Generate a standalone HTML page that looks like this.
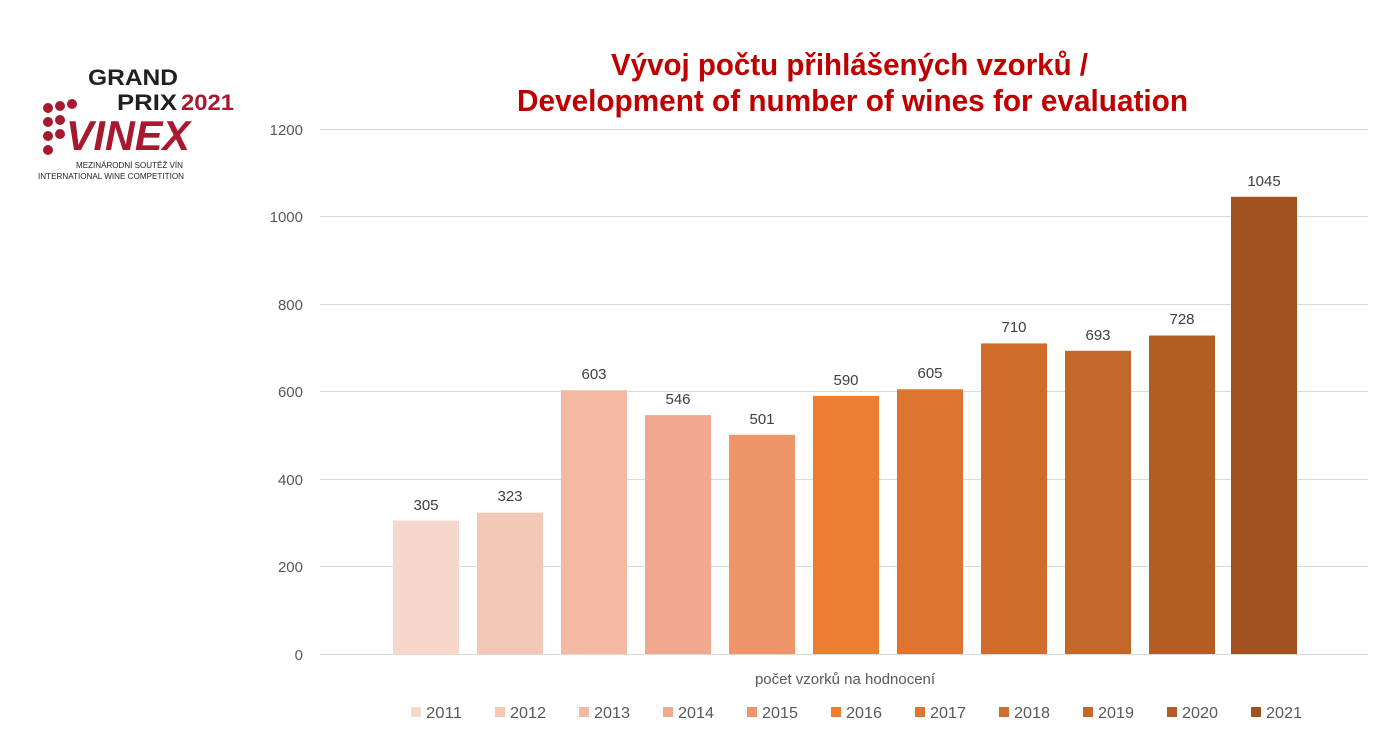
<!DOCTYPE html>
<html><head><meta charset="utf-8"><style>
html,body{margin:0;padding:0;background:#fff;}
svg{display:block;}
</style></head><body>
<svg width="1381" height="729" viewBox="0 0 1381 729" xmlns="http://www.w3.org/2000/svg">
<rect width="1381" height="729" fill="#fff"/>
<g font-family="Liberation Sans, DejaVu Sans, sans-serif" font-weight="bold">
<text x="88" y="85" font-size="22" fill="#231f20" textLength="90" lengthAdjust="spacingAndGlyphs">GRAND</text>
<text x="117" y="110" font-size="22" fill="#231f20" textLength="60" lengthAdjust="spacingAndGlyphs">PRIX</text>
<text x="181" y="110" font-size="22" fill="#a6192e" textLength="53" lengthAdjust="spacingAndGlyphs">2021</text>
<text x="66" y="150" font-size="42" font-style="italic" fill="#a6192e" textLength="124" lengthAdjust="spacingAndGlyphs">VINEX</text>
</g>
<g fill="#a6192e">
<circle cx="48" cy="108" r="5"/><circle cx="60" cy="106" r="5"/><circle cx="72" cy="104" r="5"/>
<circle cx="48" cy="122" r="5"/><circle cx="60" cy="120" r="5"/>
<circle cx="48" cy="136" r="5"/><circle cx="60" cy="134" r="5"/>
<circle cx="48" cy="150" r="5"/>
</g>
<g font-family="Liberation Sans, DejaVu Sans, sans-serif" font-size="8" fill="#231f20">
<text x="76" y="168" textLength="107" lengthAdjust="spacingAndGlyphs">MEZINÁRODNÍ SOUTĚŽ VÍN</text>
<text x="38" y="179" textLength="146" lengthAdjust="spacingAndGlyphs">INTERNATIONAL WINE COMPETITION</text>
</g>
<g font-family="Liberation Sans Narrow, Liberation Sans, sans-serif" font-weight="bold" font-size="31" fill="#c00000">
<text x="611" y="75" textLength="477" lengthAdjust="spacingAndGlyphs">Vývoj počtu přihlášených vzorků /</text>
<text x="517" y="111" textLength="671" lengthAdjust="spacingAndGlyphs">Development of number of wines for evaluation</text>
</g>
<g stroke="#d9d9d9" stroke-width="1">
<line x1="320" x2="1368" y1="129.5" y2="129.5"/>
<line x1="320" x2="1368" y1="216.5" y2="216.5"/>
<line x1="320" x2="1368" y1="304.5" y2="304.5"/>
<line x1="320" x2="1368" y1="391.5" y2="391.5"/>
<line x1="320" x2="1368" y1="479.5" y2="479.5"/>
<line x1="320" x2="1368" y1="566.5" y2="566.5"/>
<line x1="320" x2="1368" y1="654.5" y2="654.5"/>
</g>
<g font-family="Liberation Sans, DejaVu Sans, sans-serif" font-size="15" fill="#595959" text-anchor="end">
<text x="303" y="135">1200</text><text x="303" y="222">1000</text><text x="303" y="310">800</text>
<text x="303" y="397">600</text><text x="303" y="485">400</text><text x="303" y="572">200</text><text x="303" y="660">0</text>
</g>
<g>
<rect x="393" y="520.6" width="66" height="133.4" fill="#f7d6cb"/>
<rect x="477" y="512.7" width="66" height="141.3" fill="#f5c7b7"/>
<rect x="561" y="390.2" width="66" height="263.8" fill="#f3b9a4"/>
<rect x="645" y="415.1" width="66" height="238.9" fill="#f0a98e"/>
<rect x="729" y="434.8" width="66" height="219.2" fill="#ee966a"/>
<rect x="813" y="395.9" width="66" height="258.1" fill="#ec7d33"/>
<rect x="897" y="389.3" width="66" height="264.7" fill="#dd7430"/>
<rect x="981" y="343.4" width="66" height="310.6" fill="#d16d2c"/>
<rect x="1065" y="350.8" width="66" height="303.2" fill="#c4672a"/>
<rect x="1149" y="335.5" width="66" height="318.5" fill="#b45c26"/>
<rect x="1231" y="196.8" width="66" height="457.2" fill="#a0521f"/>
</g>
<g font-family="Liberation Sans, DejaVu Sans, sans-serif" font-size="15" fill="#404040" text-anchor="middle">
<text x="426" y="510">305</text><text x="510" y="501">323</text><text x="594" y="379">603</text>
<text x="678" y="404">546</text><text x="762" y="424">501</text><text x="846" y="385">590</text>
<text x="930" y="378">605</text><text x="1014" y="332">710</text><text x="1098" y="340">693</text>
<text x="1182" y="324">728</text><text x="1264" y="186">1045</text>
</g>
<text x="845" y="684" font-family="Liberation Sans, DejaVu Sans, sans-serif" font-size="15" fill="#595959" text-anchor="middle">počet vzorků na hodnocení</text>
<g font-family="Liberation Sans Narrow, Liberation Sans, sans-serif" font-size="16" fill="#595959">
<rect x="411" y="707" width="10" height="10" fill="#f7d6cb"/><text x="426" y="718" textLength="36" lengthAdjust="spacingAndGlyphs">2011</text>
<rect x="495" y="707" width="10" height="10" fill="#f5c7b7"/><text x="510" y="718" textLength="36" lengthAdjust="spacingAndGlyphs">2012</text>
<rect x="579" y="707" width="10" height="10" fill="#f3b9a4"/><text x="594" y="718" textLength="36" lengthAdjust="spacingAndGlyphs">2013</text>
<rect x="663" y="707" width="10" height="10" fill="#f0a98e"/><text x="678" y="718" textLength="36" lengthAdjust="spacingAndGlyphs">2014</text>
<rect x="747" y="707" width="10" height="10" fill="#ee966a"/><text x="762" y="718" textLength="36" lengthAdjust="spacingAndGlyphs">2015</text>
<rect x="831" y="707" width="10" height="10" fill="#ec7d33"/><text x="846" y="718" textLength="36" lengthAdjust="spacingAndGlyphs">2016</text>
<rect x="915" y="707" width="10" height="10" fill="#dd7430"/><text x="930" y="718" textLength="36" lengthAdjust="spacingAndGlyphs">2017</text>
<rect x="999" y="707" width="10" height="10" fill="#d16d2c"/><text x="1014" y="718" textLength="36" lengthAdjust="spacingAndGlyphs">2018</text>
<rect x="1083" y="707" width="10" height="10" fill="#c4672a"/><text x="1098" y="718" textLength="36" lengthAdjust="spacingAndGlyphs">2019</text>
<rect x="1167" y="707" width="10" height="10" fill="#b45c26"/><text x="1182" y="718" textLength="36" lengthAdjust="spacingAndGlyphs">2020</text>
<rect x="1251" y="707" width="10" height="10" fill="#a0521f"/><text x="1266" y="718" textLength="36" lengthAdjust="spacingAndGlyphs">2021</text>
</g>
</svg>
</body></html>
